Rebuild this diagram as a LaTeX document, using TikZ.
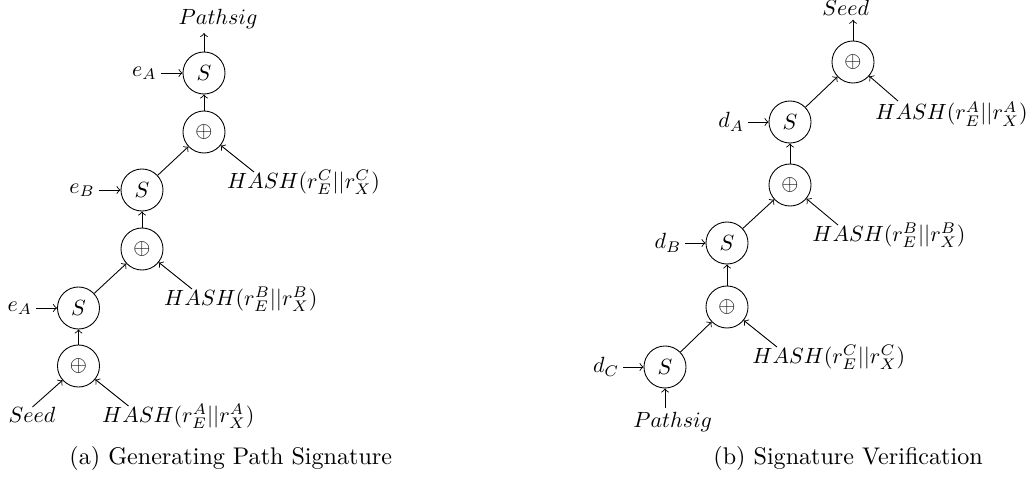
\documentclass[tikz,border=0pt]{standalone}
\usetikzlibrary{calc}
\begin{document}
\begin{tikzpicture}[x=0.4545pt,y=-0.4545pt,
  op/.style={circle, draw, minimum size=19.1pt, inner sep=0pt},
  lbl/.style={inner sep=1.5pt},
  captext/.style={inner sep=0pt, anchor=base west, font=\fontsize{10.95}{13.6}\selectfont},
  arr/.style={->}]
\useasboundingbox (0,0) rectangle (1032,479);
% ---------- (a) ----------
\node[op] (sa1) at (204,73) {$S$};
\node[op] (xa1) at (204,132) {$\oplus$};
\node[op] (sa2) at (142,190) {$S$};
\node[op] (xa2) at (142,249) {$\oplus$};
\node[op] (sa3) at (78.5,308) {$S$};
\node[op] (xa3) at (78.5,366) {$\oplus$};
\node[lbl, anchor=base west] (psa) at (175,25) {$Pathsig$};
\node[lbl, anchor=east] (ea1) at (160.5,73) {$e_A$};
\node[lbl, anchor=east] (eb) at (98.5,190) {$e_B$};
\node[lbl, anchor=east] (ea3) at (36,308) {$e_A$};
\node[lbl, anchor=base west] (hc) at (223.5,188) {$HASH(r_E^C||r_X^C)$};
\node[lbl, anchor=base west] (hb) at (160.5,305) {$HASH(r_E^B||r_X^B)$};
\node[lbl, anchor=base west] (ha) at (98.5,422) {$HASH(r_E^A||r_X^A)$};
\node[lbl, anchor=base west] (seeda) at (5,422) {$Seed$};
\coordinate (tc) at (254,172);
\coordinate (tb) at (192,289);
\coordinate (ta) at (128.5,406);
\coordinate (ts) at (32.5,407);
\node[captext] (capa) at (69,464) {(a) Generating Path Signature};
\draw[arr] (sa1) -- (sa1 |- psa.south);
\draw[arr] (ea1) -- (sa1);
\draw[arr] (xa1) -- (sa1);
\draw[arr] (sa2) -- (xa1);
\draw[arr] (tc) -- (xa1);
\draw[arr] (eb) -- (sa2);
\draw[arr] (xa2) -- (sa2);
\draw[arr] (sa3) -- (xa2);
\draw[arr] (tb) -- (xa2);
\draw[arr] (ea3) -- (sa3);
\draw[arr] (xa3) -- (sa3);
\draw[arr] (ts) -- (xa3);
\draw[arr] (ta) -- (xa3);
% ---------- (b) ----------
\node[op] (xb1) at (853,62) {$\oplus$};
\node[op] (sb1) at (790,122) {$S$};
\node[op] (xb2) at (790,185) {$\oplus$};
\node[op] (sb2) at (727,243) {$S$};
\node[op] (xb3) at (727,307) {$\oplus$};
\node[op] (sb3) at (665,367) {$S$};
\node[lbl, anchor=base west] (seedb) at (818.7,16) {$Seed$};
\node[lbl, anchor=east] (da) at (748,122) {$d_A$};
\node[lbl, anchor=east] (db) at (685,243) {$d_B$};
\node[lbl, anchor=east] (dc) at (623,367) {$d_C$};
\node[lbl, anchor=base west] (hba) at (871.7,120) {$HASH(r_E^A||r_X^A)$};
\node[lbl, anchor=base west] (hbb) at (808.7,241) {$HASH(r_E^B||r_X^B)$};
\node[lbl, anchor=base west] (hbc) at (748.7,363) {$HASH(r_E^C||r_X^C)$};
\node[lbl, anchor=base west] (psb) at (629.7,427) {$Pathsig$};
\coordinate (tba) at (898,101);
\coordinate (tbb) at (838,225);
\coordinate (tbc) at (777,347);
\node[captext] (capb) at (713,464) {(b) Signature Verification};
\draw[arr] (xb1) -- (xb1 |- seedb.south);
\draw[arr] (sb1) -- (xb1);
\draw[arr] (tba) -- (xb1);
\draw[arr] (da) -- (sb1);
\draw[arr] (xb2) -- (sb1);
\draw[arr] (sb2) -- (xb2);
\draw[arr] (tbb) -- (xb2);
\draw[arr] (db) -- (sb2);
\draw[arr] (xb3) -- (sb2);
\draw[arr] (sb3) -- (xb3);
\draw[arr] (tbc) -- (xb3);
\draw[arr] (dc) -- (sb3);
\draw[arr] (sb3 |- psb.north) -- (sb3);
\end{tikzpicture}
\end{document}
